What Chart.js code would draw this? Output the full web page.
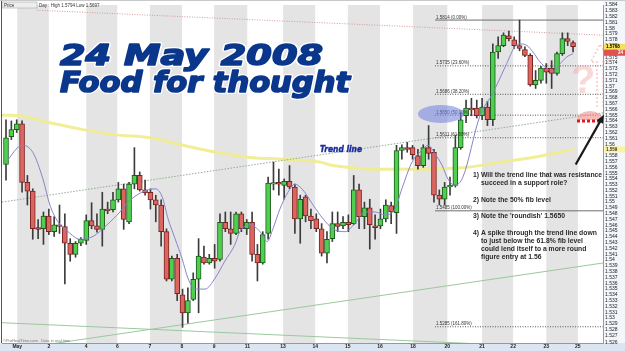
<!DOCTYPE html>
<html>
<head>
<meta charset="utf-8">
<script src="https://cdn.jsdelivr.net/npm/chart.js@4"></script>
<style>
  html, body { margin: 0; padding: 0; background: #fff; }
  #wrap { width: 625px; height: 351px; }
</style>
</head>
<body>
<div id="wrap"><canvas id="fx-chart" width="625" height="351"></canvas></div>
<script>
// GBP/USD 4h candles, 1 May - 23 May 2008
const candleOpen = [1.5565,1.5613,1.5625,1.5635,1.5534,1.5519,1.5456,1.5454,1.5476,1.5449,1.5461,1.5458,1.5429,1.5410,1.5429,1.5434,1.5468,1.5459,1.5453,1.5488,1.5487,1.5504,1.5523,1.5466,1.5531,1.5546,1.5521,1.5517,1.5504,1.5495,1.5449,1.5367,1.5403,1.5340,1.5309,1.5332,1.5367,1.5405,1.5395,1.5403,1.5401,1.5465,1.5454,1.5446,1.5480,1.5454,1.5465,1.5410,1.5395,1.5446,1.5531,1.5534,1.5529,1.5536,1.5526,1.5471,1.5509,1.5476,1.5471,1.5454,1.5412,1.5437,1.5463,1.5459,1.5465,1.5463,1.5521,1.5475,1.5490,1.5459,1.5459,1.5471,1.5494,1.5482,1.5589,1.5594,1.5594,1.5580,1.5563,1.5594,1.5586,1.5512,1.5505,1.5526,1.5529,1.5594,1.5649,1.5662,1.5662,1.5649,1.5664,1.5642,1.5759,1.5770,1.5787,1.5780,1.5770,1.5763,1.5753,1.5702,1.5710,1.5731,1.5731,1.5722,1.5756,1.5782,1.5775];
const candleHigh = [1.5642,1.5640,1.5642,1.5640,1.5546,1.5523,1.5470,1.5483,1.5488,1.5475,1.5495,1.5480,1.5437,1.5432,1.5439,1.5478,1.5499,1.5480,1.5517,1.5500,1.5517,1.5534,1.5531,1.5534,1.5594,1.5552,1.5538,1.5523,1.5512,1.5504,1.5454,1.5407,1.5410,1.5350,1.5352,1.5378,1.5437,1.5424,1.5410,1.5427,1.5480,1.5483,1.5483,1.5483,1.5483,1.5470,1.5483,1.5427,1.5449,1.5543,1.5569,1.5557,1.5540,1.5563,1.5531,1.5512,1.5512,1.5488,1.5480,1.5463,1.5449,1.5483,1.5483,1.5475,1.5478,1.5546,1.5531,1.5500,1.5505,1.5478,1.5488,1.5504,1.5500,1.5598,1.5599,1.5603,1.5598,1.5591,1.5599,1.5632,1.5591,1.5521,1.5534,1.5543,1.5615,1.5654,1.5676,1.5679,1.5676,1.5679,1.5674,1.5773,1.5785,1.5792,1.5795,1.5785,1.5814,1.5768,1.5756,1.5727,1.5734,1.5739,1.5744,1.5759,1.5792,1.5792,1.5778];
const candleLow = [1.5538,1.5608,1.5620,1.5517,1.5495,1.5436,1.5437,1.5427,1.5444,1.5441,1.5446,1.5359,1.5398,1.5405,1.5425,1.5427,1.5454,1.5448,1.5424,1.5480,1.5483,1.5500,1.5453,1.5463,1.5523,1.5519,1.5512,1.5488,1.5466,1.5424,1.5364,1.5364,1.5330,1.5284,1.5291,1.5330,1.5309,1.5393,1.5393,1.5386,1.5398,1.5449,1.5427,1.5444,1.5449,1.5444,1.5398,1.5364,1.5393,1.5436,1.5521,1.5512,1.5505,1.5523,1.5446,1.5429,1.5466,1.5454,1.5449,1.5407,1.5395,1.5432,1.5449,1.5454,1.5449,1.5461,1.5454,1.5454,1.5419,1.5436,1.5454,1.5466,1.5463,1.5446,1.5574,1.5586,1.5574,1.5557,1.5560,1.5574,1.5500,1.5495,1.5495,1.5512,1.5526,1.5591,1.5637,1.5649,1.5645,1.5642,1.5632,1.5632,1.5748,1.5768,1.5778,1.5765,1.5761,1.5751,1.5700,1.5696,1.5705,1.5705,1.5696,1.5719,1.5753,1.5770,1.5759];
const candleClose = [1.5611,1.5625,1.5635,1.5534,1.5519,1.5454,1.5453,1.5476,1.5449,1.5461,1.5458,1.5429,1.5410,1.5429,1.5436,1.5468,1.5459,1.5453,1.5488,1.5485,1.5504,1.5523,1.5470,1.5531,1.5546,1.5521,1.5516,1.5504,1.5495,1.5449,1.5367,1.5403,1.5342,1.5309,1.5330,1.5367,1.5407,1.5395,1.5403,1.5398,1.5465,1.5454,1.5446,1.5480,1.5454,1.5465,1.5410,1.5395,1.5444,1.5533,1.5533,1.5531,1.5536,1.5526,1.5471,1.5505,1.5476,1.5468,1.5454,1.5412,1.5436,1.5463,1.5458,1.5465,1.5461,1.5521,1.5475,1.5490,1.5461,1.5456,1.5471,1.5495,1.5483,1.5589,1.5594,1.5591,1.5582,1.5563,1.5594,1.5584,1.5512,1.5505,1.5526,1.5529,1.5594,1.5642,1.5662,1.5659,1.5649,1.5664,1.5642,1.5759,1.5770,1.5788,1.5782,1.5770,1.5765,1.5753,1.5702,1.5710,1.5731,1.5724,1.5722,1.5756,1.5782,1.5777,1.5768];

// day boundaries (candle index) and their labels
const dayTickAt = [2.1, 8.0, 15.0, 20.8, 26.9, 32.9, 38.9, 45.1, 51.8, 57.8, 63.9, 69.9, 76.1, 82.5, 89.0, 94.8, 101.0, 106.9];
const dayLabels = ['May', '2', '4', '6', '7', '8', '9', '11', '13', '14', '15', '16', '18', '20', '21', '22', '23', '25'];

// short moving average (thin purple)
const maAt  = [0, 3, 5, 6.9, 8.2, 9.7, 11.6, 13.8, 16.3, 18.9, 21.3, 22.8, 25.4, 27.9, 29.2, 30.3, 31.6, 32.9, 34, 35.3, 37.2, 39.1, 40.9, 42.8, 43.7, 45.6, 47.5, 48.8, 49.9, 51.2, 52.7, 54, 55.5, 57.4, 59.3, 61.1, 63.4, 65.2, 67.1, 69, 70.8, 72.7, 74, 75.9, 77.8, 78.9, 80.2, 81.5, 82.6, 83.9, 85.4, 88.6, 91, 93.6, 95.1, 96.1, 97.4, 98.5, 99.8, 101.1, 102.2, 103.6, 104.9, 106];
const maVal = [1.5569, 1.5598, 1.5586, 1.5540, 1.5495, 1.5466, 1.5449, 1.5436, 1.5441, 1.5461, 1.5483, 1.5500, 1.5517, 1.5523, 1.5509, 1.5471, 1.5437, 1.5403, 1.5369, 1.5350, 1.5350, 1.5369, 1.5398, 1.5427, 1.5449, 1.5461, 1.5449, 1.5432, 1.5454, 1.5488, 1.5517, 1.5531, 1.5521, 1.5495, 1.5471, 1.5454, 1.5449, 1.5463, 1.5483, 1.5483, 1.5478, 1.5488, 1.5523, 1.5569, 1.5590, 1.5598, 1.5583, 1.5564, 1.5540, 1.5529, 1.5543, 1.5649, 1.5688, 1.5739, 1.5768, 1.5773, 1.5770, 1.5759, 1.5742, 1.5731, 1.5725, 1.5739, 1.5751, 1.5756];

// long moving average (thick yellow)
const longMaAt  = [-0.75, 2.6, 8.2, 14.4, 20.7, 27, 33.1, 39.4, 45.6, 51.8, 58.7, 61.1, 67.5, 73.6, 79.8, 86.2, 92.3, 98.5, 106];
const longMaVal = [1.5650, 1.5649, 1.5637, 1.5625, 1.5616, 1.5611, 1.5598, 1.5586, 1.5577, 1.5574, 1.5569, 1.5563, 1.5557, 1.5557, 1.5557, 1.5560, 1.5569, 1.5577, 1.5591];

// hand drawn lines
const trendAt = [-0.75, 111.6];
const trendVal = [1.5500, 1.5654];
const topLineAt = [5.8, 111.6];
const topLineVal = [1.5831, 1.5788];
const riseLineAt = [-0.75, 111.6];
const riseLineVal = [1.5243, 1.5395];
const fallLineAt = [-0.75, 111.6];
const fallLineVal = [1.5292, 1.5246];

// fibonacci retracement
const fibLevels = [1.5814, 1.5735, 1.5686, 1.5650, 1.5611, 1.5485, 1.5285];
const fibNames = ['0.00%', '23.60%', '38.20%', '50.00%', '61.80%', '100.00%', '161.80%'];
const fibFrom = 80.2;

const notes = [
    ['1) Will the trend line that was resistance', 0],
    ['succeed in a support role?', 1],
    ['2) Note the 50% fib level', 0],
    ['3) Note the \'roundish\' 1.5650', 0],
    ['4) A spike through the trend line down', 0],
    ['to just below the 61.8% fib level', 1],
    ['could lend itself to a more round', 1],
    ['figure entry at 1.56', 1]
];
const noteBase = [177, 185, 202, 218, 235, 243, 251, 259];

var xMin = -0.75, xMax = 111.6;
var yMin = 1.5257, yMax = 1.5840;

function pairs(at, val) {
    return at.map((v, i) => ({ x: v, y: val[i] }));
}

function drawWide(ctx, text, x, base, width, font, fill, halo, weight) {
    ctx.font = font;
    var w = ctx.measureText(text).width;
    ctx.save();
    ctx.translate(x, base);
    ctx.scale(width / w, 1);
    ctx.lineJoin = 'round';
    if (halo) {
        ctx.strokeStyle = halo;
        ctx.lineWidth = 4;
        ctx.strokeText(text, 0, 0);
    }
    if (weight) {
        ctx.strokeStyle = fill;
        ctx.lineWidth = weight;
        ctx.strokeText(text, 0, 0);
    }
    ctx.fillStyle = fill;
    ctx.fillText(text, 0, 0);
    ctx.restore();
}

const backdrop = {
    id: 'backdrop',
    beforeDraw(chart) {
        var ctx = chart.ctx, a = chart.chartArea, xs = chart.scales.x;
        ctx.save();
        ctx.fillStyle = '#fff';
        ctx.fillRect(0, 0, chart.width, chart.height);
        ctx.fillStyle = '#e4e4e4';
        for (var k = 0; k + 1 < dayTickAt.length; k += 2) {
            var x0 = xs.getPixelForValue(dayTickAt[k]);
            var x1 = xs.getPixelForValue(dayTickAt[k + 1]);
            ctx.fillRect(x0, a.top, x1 - x0, a.bottom - a.top);
        }
        ctx.fillStyle = '#dce6f2';
        ctx.fillRect(0, a.bottom, chart.width, chart.height - a.bottom);
        ctx.fillStyle = '#f3f6fa';
        ctx.fillRect(a.right, 0, chart.width - a.right, a.bottom);
        ctx.fillStyle = '#c9c9c9';
        ctx.fillRect(0, 0, chart.width, 1);
        ctx.restore();
    },
    beforeDatasetsDraw(chart) {
        var ctx = chart.ctx;
        drawWide(ctx, '24 May 2008', 60, 65, 263, 'italic bold 28px "DejaVu Sans"', '#0a378c', '#ffffff', 1.6);
        drawWide(ctx, 'Food for thought', 60, 92, 290, 'italic bold 28px "DejaVu Sans"', '#0a378c', '#ffffff', 1.6);
    },
    afterDatasetsDraw(chart) {
        var ctx = chart.ctx, a = chart.chartArea, xs = chart.scales.x, ys = chart.scales.y;
        ctx.save();

        // fib labels
        ctx.font = '4.5px "Liberation Sans"';
        ctx.fillStyle = '#333';
        ctx.textBaseline = 'alphabetic';
        fibLevels.forEach((lv, i) => {
            ctx.fillText(lv.toFixed(4) + ' (' + fibNames[i] + ')', xs.getPixelForValue(fibFrom) + 1, ys.getPixelForValue(lv) - 1.5);
        });

        // highlight ellipse on the 50% level
        ctx.fillStyle = 'rgba(110, 128, 222, 0.55)';
        ctx.beginPath();
        ctx.ellipse(xs.getPixelForValue(81.3), ys.getPixelForValue(1.5652), 23, 9, 0, 0, Math.PI * 2);
        ctx.fill();

        // trend line label
        drawWide(ctx, 'Trend line', 320, 152, 42, 'italic bold 9px "DejaVu Sans"', '#1a2c9c', null, 0.4);

        // question mark and dotted arrow
        ctx.fillStyle = 'rgba(244, 168, 168, 0.45)';
        ctx.font = 'bold 40px "Liberation Sans"';
        ctx.fillText('?', 571, 93);
        ctx.strokeStyle = 'rgba(240, 150, 150, 0.5)';
        ctx.lineWidth = 1.5;
        ctx.setLineDash([2, 2]);
        ctx.beginPath();
        ctx.moveTo(597, 107); ctx.lineTo(597, 62); ctx.lineTo(591, 62); ctx.lineTo(600, 44);
        ctx.lineTo(609, 62); ctx.lineTo(603, 62); ctx.lineTo(603, 107);
        ctx.stroke();
        ctx.setLineDash([]);

        // pink blob and red dotted line on the trend line
        var ry = ys.getPixelForValue(1.5640);
        ctx.fillStyle = 'rgba(242, 150, 150, 0.65)';
        ctx.beginPath();
        ctx.ellipse(590, ry - 1, 13, 9, 0, Math.PI, Math.PI * 2);
        ctx.fill();
        ctx.strokeStyle = '#e01818';
        ctx.lineWidth = 3;
        ctx.setLineDash([3, 2]);
        ctx.beginPath();
        ctx.moveTo(577, ry); ctx.lineTo(a.right, ry);
        ctx.stroke();
        ctx.setLineDash([]);

        // arrow to the trend line
        var tx = a.right + 1, ty = ys.getPixelForValue(trendVal[1]) + 2;
        var fx = xs.getPixelForValue(106.5), fy = ys.getPixelForValue(1.5565);
        ctx.strokeStyle = '#1a1a1a';
        ctx.lineWidth = 2.2;
        ctx.beginPath();
        ctx.moveTo(fx, fy); ctx.lineTo(tx - 3, ty + 5);
        ctx.stroke();
        var ang = Math.atan2(ty - fy, tx - fx);
        ctx.fillStyle = '#1a1a1a';
        ctx.beginPath();
        ctx.moveTo(tx, ty);
        ctx.lineTo(tx - 9 * Math.cos(ang - 0.4), ty - 9 * Math.sin(ang - 0.4));
        ctx.lineTo(tx - 9 * Math.cos(ang + 0.4), ty - 9 * Math.sin(ang + 0.4));
        ctx.closePath();
        ctx.fill();

        // notes
        ctx.font = 'bold 6.8px "Liberation Sans"';
        ctx.fillStyle = '#2b2b2b';
        notes.forEach((n, i) => {
            ctx.fillText(n[0], 473 + n[1] * 8, noteBase[i]);
        });

        // top-left legend
        ctx.fillStyle = '#eeeeee';
        ctx.fillRect(2, 2, 35, 6);
        ctx.strokeStyle = '#999';
        ctx.lineWidth = 0.5;
        ctx.strokeRect(2, 2, 35, 6);
        ctx.font = '4.5px "Liberation Sans"';
        ctx.fillStyle = '#333';
        ctx.fillText('Price', 4, 6.7);
        ctx.fillText('Day : High 1.5794 Low 1.5697', 39, 6.7);

        // watermark
        ctx.font = '4px "Liberation Sans"';
        ctx.fillStyle = '#777';
        ctx.fillText('\u00a9ProRealTime.com   Data in real time', 3, a.bottom - 1);

        // frame
        ctx.strokeStyle = '#555';
        ctx.lineWidth = 1;
        ctx.beginPath();
        ctx.moveTo(1.5, 1); ctx.lineTo(1.5, a.bottom);
        ctx.stroke();
        ctx.restore();
    },
    afterDraw(chart) {
        var ctx = chart.ctx, a = chart.chartArea, ys = chart.scales.y;
        ctx.save();
        ctx.font = 'bold 4.5px "Liberation Sans"';
        ctx.textBaseline = 'middle';
        var last = candleClose[candleClose.length - 1];
        var py = ys.getPixelForValue(last);
        ctx.fillStyle = '#f6e25a';
        ctx.fillRect(a.right + 1, py - 3, 22, 6);
        ctx.fillStyle = '#000';
        ctx.fillText(last.toFixed(4), a.right + 3, py);
        ctx.fillStyle = '#df5252';
        ctx.fillRect(a.right + 1, py + 3, 22, 6);
        ctx.fillStyle = '#fff';
        ctx.fillText('24', a.right + 15, py + 6);
        var lm = longMaVal[longMaVal.length - 1];
        var ly = ys.getPixelForValue(lm);
        ctx.fillStyle = '#fbf3a0';
        ctx.fillRect(a.right + 1, ly - 3, 22, 6);
        ctx.fillStyle = '#333';
        ctx.fillText(lm.toFixed(3), a.right + 3, ly);
        ctx.restore();
    }
};

function lineSet(at, val, color, width, dash, order) {
    return {
        type: 'line',
        data: pairs(at, val),
        borderColor: color,
        borderWidth: width,
        borderDash: dash,
        pointRadius: 0,
        order: order
    };
}

var datasets = [];
datasets.push(lineSet(longMaAt, longMaVal, 'rgba(240, 236, 140, 0.9)', 3, [], 9));
datasets[0].tension = 0.4;
datasets.push(lineSet(riseLineAt, riseLineVal, '#9cc89c', 1, [], 8));
datasets.push(lineSet(fallLineAt, fallLineVal, '#9cc89c', 1, [], 8));
datasets.push(lineSet(trendAt, trendVal, '#8fae8f', 1, [1.5, 1.5], 7));
datasets.push(lineSet(topLineAt, topLineVal, '#d79a9a', 1, [1, 1.5], 7));
fibLevels.forEach((lv, i) => {
    var solid = (i === 0 || i === 5);
    datasets.push(lineSet([fibFrom, xMax], [lv, lv], solid ? '#6e6e6e' : '#555', 1, solid ? [] : [1, 1.5], 6));
});
datasets.push({
    type: 'bar',
    data: candleOpen.map((o, i) => ({ x: i, y: [candleLow[i], candleHigh[i]] })),
    backgroundColor: '#3c3c3c',
    barThickness: 1,
    grouped: false,
    order: 4
});
datasets.push({
    type: 'bar',
    data: candleOpen.map((o, i) => ({ x: i, y: [o, candleClose[i]] })),
    backgroundColor: candleOpen.map((o, i) => candleClose[i] >= o ? '#4fcf4f' : '#db6660'),
    borderColor: candleOpen.map((o, i) => candleClose[i] >= o ? '#1c5a1c' : '#7a2222'),
    borderWidth: 1,
    borderSkipped: false,
    barThickness: 5,
    minBarLength: 1.5,
    grouped: false,
    order: 3
});
datasets.push({
    type: 'line',
    data: pairs(maAt, maVal),
    borderColor: '#8585cc',
    borderWidth: 1,
    pointRadius: 0,
    cubicInterpolationMode: 'monotone',
    order: 1
});

new Chart(document.getElementById('fx-chart'), {
    type: 'bar',
    data: { datasets: datasets },
    options: {
        responsive: false,
        devicePixelRatio: 1,
        animation: false,
        layout: { padding: { left: 2, top: 1, right: 0, bottom: 0 } },
        plugins: { legend: { display: false }, tooltip: { enabled: false } },
        scales: {
            x: {
                type: 'linear',
                min: xMin,
                max: xMax,
                offset: false,
                grid: { display: false, drawTicks: false },
                border: { display: true, color: '#8a9ab0' },
                afterFit: (s) => { s.height = 8; },
                afterBuildTicks: (s) => { s.ticks = dayTickAt.map(v => ({ value: v })); },
                ticks: {
                    autoSkip: false,
                    maxRotation: 0,
                    padding: 1,
                    color: '#222',
                    font: { size: 5, weight: 'bold', family: 'Liberation Sans' },
                    callback: (v, i) => dayLabels[i]
                }
            },
            y: {
                type: 'linear',
                position: 'right',
                min: yMin,
                max: yMax,
                grid: { display: false, drawTicks: false },
                border: { display: true, color: '#8a9ab0' },
                afterFit: (s) => { s.width = 22; },
                ticks: {
                    stepSize: 0.001,
                    autoSkip: false,
                    padding: 2,
                    color: '#222',
                    font: { size: 5, family: 'Liberation Sans' },
                    callback: (v) => String(+v.toFixed(3))
                }
            }
        }
    },
    plugins: [backdrop]
});
</script>
</body>
</html>
